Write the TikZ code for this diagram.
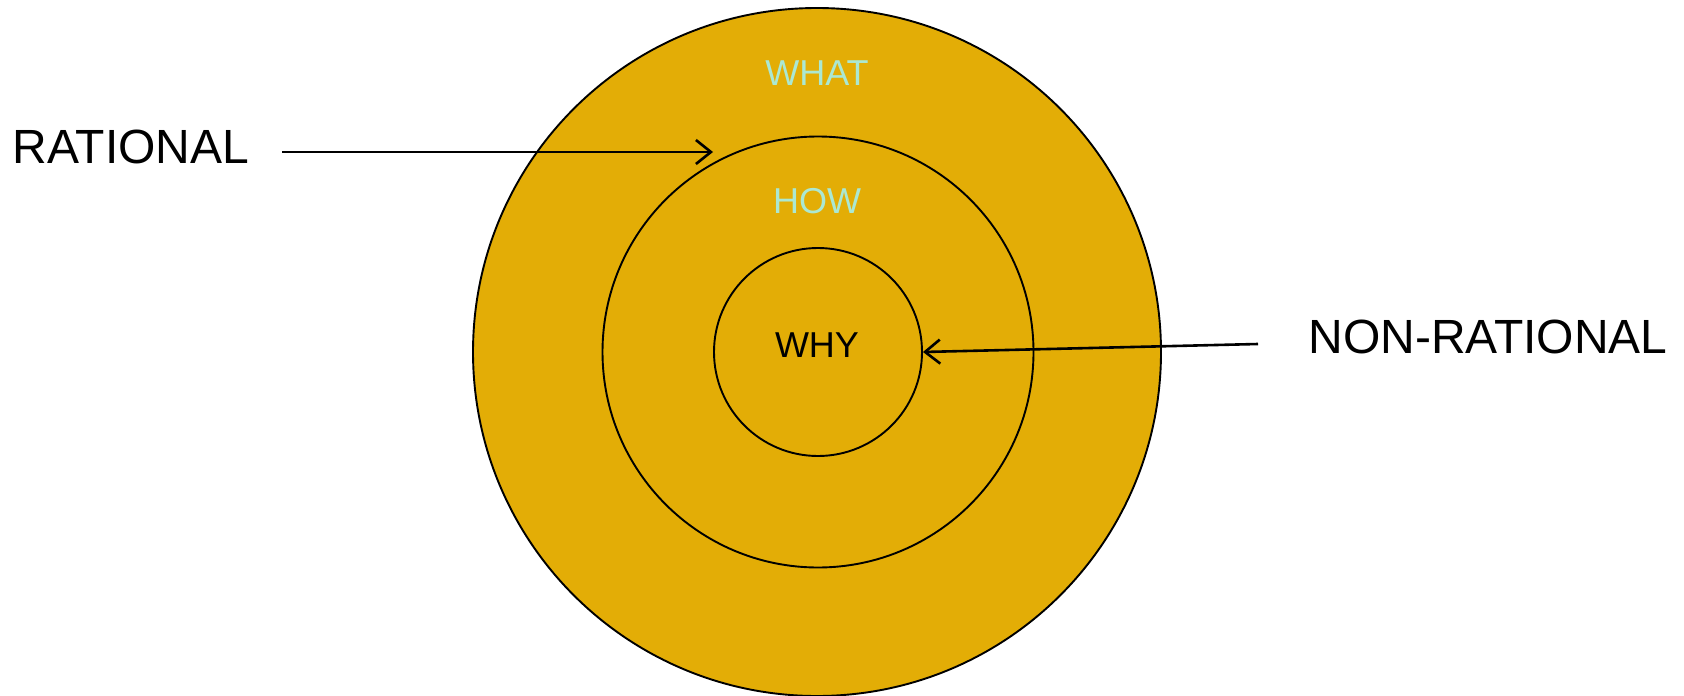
\documentclass[tikz,border=0pt]{standalone}
\usepackage{fontspec}
\setmainfont{Liberation Sans}
\usetikzlibrary{arrows.meta}
\definecolor{gold}{HTML}{E3AD06}
\definecolor{mint}{HTML}{ABE8D2}
\tikzset{
  ring/.style={draw=black, line width=1.9pt, fill=gold},
  biglabel/.style={inner sep=0pt, font=\fontsize{48}{57}\selectfont, text=black},
  ringlabel/.style={inner sep=0pt, font=\fontsize{36}{43}\selectfont},
  pointer/.style={line width=2.6pt, -{Straight Barb[length=15pt,width=24pt,line width=2.6pt]}}
}
\begin{document}
\begin{tikzpicture}[x=1pt,y=-1pt]
\useasboundingbox (0,0) rectangle (1684,696);
\node[ring, circle, minimum size=688pt, inner sep=0pt] (outer) at (817,352) {};
\node[ring, circle, minimum size=431pt, inner sep=0pt] (middle) at (818,352) {};
\node[ring, circle, minimum size=208pt, inner sep=0pt] (inner) at (818,352) {};
\node[ringlabel, text=mint] (what) at (817,73) {WHAT};
\node[ringlabel, text=mint] (how) at (817,201) {HOW};
\node[ringlabel, text=black] (why) at (817,345) {WHY};
\node[biglabel] (rational) at (131,147) {RATIONAL};
\node[biglabel] (nonrational) at (1488,337) {NON-RATIONAL};
\coordinate (rstart) at (282,152);
\coordinate (rend) at (713,152);
\coordinate (nstart) at (1258,344);
\draw[pointer] (rstart) -- (rend);
\draw[pointer] (nstart) -- (inner.east);
\end{tikzpicture}
\end{document}
